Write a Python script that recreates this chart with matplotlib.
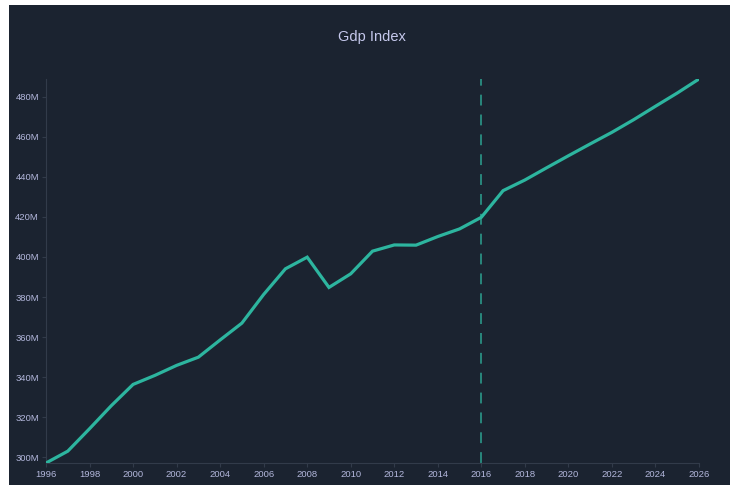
import matplotlib.pyplot as plt
from matplotlib.patches import Rectangle
from matplotlib.ticker import FuncFormatter

# Serie anual del índice (millones)
years = list(range(1996, 2027))
gdp_index = [297.2, 303.1, 314.3, 325.8, 336.4, 340.9, 345.9, 350.0, 358.6, 367.0,
             381.3, 394.1, 399.9, 384.8, 391.6, 402.9, 406.0, 405.9, 410.2, 414.0,
             419.8, 433.1, 438.4, 444.5, 450.5, 456.4, 462.2, 468.5, 475.2, 481.8,
             488.8]
split_year = 2016
x_ticks = list(range(1996, 2027, 2))
y_ticks = list(range(300, 481, 20))

BG = "#1b2330"
TEXT = "#b3b7dc"
TEAL = "#2db59f"

plt.rcParams['font.family'] = ['Liberation Sans', 'DejaVu Sans']

fig = plt.figure(figsize=(7.3, 4.96), dpi=100, facecolor="white")
# fondo oscuro del panel, por debajo de los ejes
fig.patches.append(Rectangle((9 / 730, 1 - 485 / 496), 721 / 730, 480 / 496,
                             transform=fig.transFigure, facecolor=BG,
                             edgecolor="none", zorder=-10))

ax = fig.add_axes([46 / 730, 1 - 463 / 496, 653 / 730, 384 / 496])
ax.patch.set_visible(False)

ax.plot(years, gdp_index, color=TEAL, linewidth=2.3, solid_joinstyle="miter",
        solid_capstyle="round", zorder=3)
ax.axvline(split_year, color="#2a8f82", linewidth=1.3, linestyle=(0, (6, 5)), zorder=2)

ax.set_xlim(1996, 2026)
ax.set_ylim(min(gdp_index), max(gdp_index))
ax.set_xticks(x_ticks)
ax.set_yticks(y_ticks)
ax.yaxis.set_major_formatter(FuncFormatter(lambda v, p: f"{int(v)}M"))

for side in ("top", "right"):
    ax.spines[side].set_visible(False)
for side in ("left", "bottom"):
    ax.spines[side].set_color("#323b4a")
    ax.spines[side].set_linewidth(0.8)

ax.tick_params(colors="#323b4a", labelcolor=TEXT, labelsize=6.8, length=3, width=0.8, pad=2)

fig.text(0.51, 1 - 37 / 496, "Gdp Index", ha="center", va="center",
         color="#c5c8ec", fontsize=10.5)

fig.savefig("out.png", dpi=100, facecolor="white")
